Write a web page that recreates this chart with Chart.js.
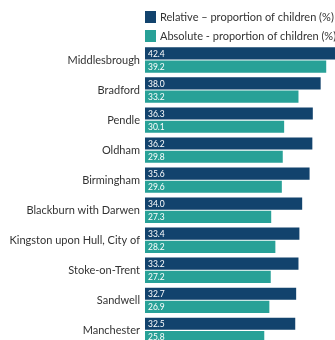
<!DOCTYPE html>
<html>
<head>
<meta charset="utf-8">
<script src="https://cdn.jsdelivr.net/npm/chart.js@4/dist/chart.umd.min.js"></script>
<style>
  html, body { margin: 0; padding: 0; background: #fff; overflow: hidden; }
  canvas { display: block; }
</style>
</head>
<body>
<canvas id="povertyChart" width="335" height="357"></canvas>
<script>
// ====== DATA ======
const areas = [
  "Middlesbrough", "Bradford", "Pendle", "Oldham", "Birmingham",
  "Blackburn with Darwen", "Kingston upon Hull, City of", "Stoke-on-Trent",
  "Sandwell", "Manchester"
];
const relativeValues = [42.4, 38.0, 36.3, 36.2, 35.6, 34.0, 33.4, 33.2, 32.7, 32.5];
const absoluteValues = [39.2, 33.2, 30.1, 29.8, 29.6, 27.3, 28.2, 27.2, 26.9, 25.8];
const seriesNames = [
  "Relative \u2013 proportion of children (%)",
  "Absolute - proportion of children (%)"
];

const NAVY = "#12436D";
const TEAL = "#28A197";
const FONT = "Lato, 'Liberation Sans', sans-serif";

// legend drawn on canvas, lined up with the left of the bars
const topLegend = {
  id: "topLegend",
  afterDraw(chart) {
    const ctx = chart.ctx;
    const left = chart.chartArea.left;
    ctx.save();
    ctx.font = "11px " + FONT;
    ctx.textBaseline = "middle";
    ctx.textAlign = "left";
    chart.data.datasets.forEach((ds, i) => {
      const y = 11 + i * 19;
      ctx.fillStyle = ds.backgroundColor;
      ctx.fillRect(left, y, 11, 12);
      ctx.fillStyle = "#333";
      ctx.fillText(ds.label, left + 15, y + 6.5);
    });
    ctx.restore();
  }
};

// white value labels at the start of each bar
const barValues = {
  id: "barValues",
  afterDatasetsDraw(chart) {
    const ctx = chart.ctx;
    ctx.save();
    ctx.font = "8.5px " + FONT;
    ctx.fillStyle = "#fff";
    ctx.textBaseline = "middle";
    ctx.textAlign = "left";
    chart.data.datasets.forEach((ds, i) => {
      chart.getDatasetMeta(i).data.forEach((bar, j) => {
        ctx.fillText(ds.data[j].toFixed(1), bar.base + 3, bar.y + 0.5);
      });
    });
    ctx.restore();
  }
};

const ctx = document.getElementById("povertyChart").getContext("2d");
new Chart(ctx, {
  type: "bar",
  data: {
    labels: areas,
    datasets: [
      { label: seriesNames[0], data: relativeValues, backgroundColor: NAVY },
      { label: seriesNames[1], data: absoluteValues, backgroundColor: TEAL }
    ]
  },
  options: {
    indexAxis: "y",
    responsive: false,
    animation: false,
    layout: { padding: { top: 45, bottom: 5, left: 0, right: 0 } },
    datasets: { bar: { categoryPercentage: 0.88, barPercentage: 0.92 } },
    plugins: {
      legend: { display: false },
      tooltip: { enabled: false }
    },
    scales: {
      x: { display: false, min: 0, max: 41.1 },
      y: {
        grid: { display: false, drawTicks: false },
        border: { display: false },
        afterFit(scale) { scale.width = 145; },
        ticks: {
          padding: 5,
          color: "#333",
          font: { family: FONT, size: 11 }
        }
      }
    }
  },
  plugins: [topLegend, barValues]
});
</script>
</body>
</html>
